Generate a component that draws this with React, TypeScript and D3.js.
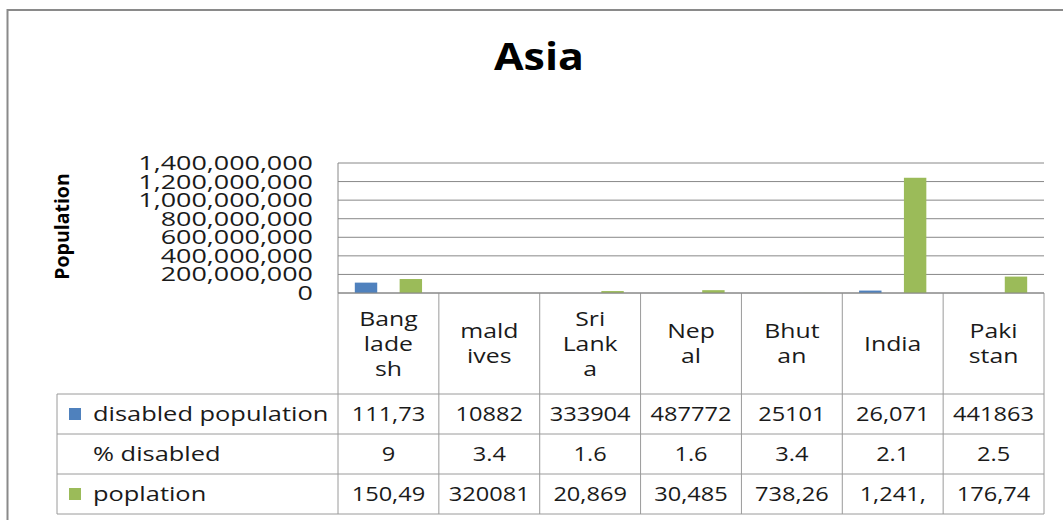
import React from 'react';
import * as d3 from 'd3';

const chartTitle = 'Asia';
const yAxisTitle = 'Population';
const categoryLines: string[][] = [
  ['Bang', 'lade', 'sh'],
  ['mald', 'ives'],
  ['Sri', 'Lank', 'a'],
  ['Nep', 'al'],
  ['Bhut', 'an'],
  ['India'],
  ['Paki', 'stan'],
];
const seriesNames = ['disabled population', '% disabled', 'poplation'];
const seriesColors = ['#4F81BD', 'none', '#9BBB59'];
const disabledPopulation = [111730000, 10882, 333904, 487772, 25101, 26071000, 441863];
const percentDisabled = [9, 3.4, 1.6, 1.6, 3.4, 2.1, 2.5];
const population = [150490000, 320081, 20869000, 30485000, 738260, 1241000000, 176740000];
const disabledText = ['111,73', '10882', '333904', '487772', '25101', '26,071', '441863'];
const percentText = ['9', '3.4', '1.6', '1.6', '3.4', '2.1', '2.5'];
const populationText = ['150,49', '320081', '20,869', '30,485', '738,26', '1,241,', '176,74'];
const yTicks = [0, 200000000, 400000000, 600000000, 800000000, 1000000000, 1200000000, 1400000000];

const W = 1063;
const H = 520;
const plotL = 338;
const plotR = 1044;
const plotT = 163;
const plotB = 293;
const headerB = 394;
const rowH = 40;
const legendL = 57;
const FONT = '"Open Sans", sans-serif';
const SX_NUM = 1.18;
const SX_TXT = 1.27;
const SX_CAT = 1.24;

export default function App() {
  const series = [disabledPopulation, percentDisabled, population];
  const texts = [disabledText, percentText, populationText];
  const idx = categoryLines.map((_, i) => i);
  const x0 = d3.scaleBand<number>().domain(idx).range([plotL, plotR]).paddingInner(0).paddingOuter(0);
  const x1 = d3
    .scaleBand<number>()
    .domain([0, 1, 2])
    .range([0, x0.bandwidth()])
    .paddingInner(0)
    .paddingOuter(0.75);
  const y = d3.scaleLinear().domain([0, 1400000000]).range([plotB, plotT]);
  const fmt = d3.format(',');
  const rowTop = (r: number) => headerB + r * rowH;
  const tableBottom = rowTop(3);
  const gridColor = '#888888';
  const tableColor = '#9a9a9a';
  const headerMid = (plotB + headerB) / 2;
  const textColor = '#1a1a1a';

  return (
    <svg
      width={W}
      height={H}
      style={{ position: 'absolute', left: 0, top: 0, background: '#fff' }}
      fontFamily={FONT}
    >
      <rect x={0} y={0} width={W} height={H} fill="#fff" />
      {/* outer chart frame */}
      <rect x={7.5} y={10} width={W + 20} height={H + 20} fill="none" stroke="#8a8a8a" strokeWidth={2} />

      {/* title */}
      <text
        transform={`translate(539,70) scale(1.13,1)`}
        textAnchor="middle"
        fontSize={38}
        fontWeight="bold"
        fill="#000"
      >
        {chartTitle}
      </text>

      {/* y axis title */}
      <text
        transform={`translate(69,226.5) rotate(-90)`}
        textAnchor="middle"
        fontSize={19.5}
        fontWeight="bold"
        fill="#000"
      >
        {yAxisTitle}
      </text>

      {/* gridlines */}
      {yTicks.map((t) => (
        <line key={'g' + t} x1={plotL} x2={plotR} y1={y(t)} y2={y(t)} stroke={gridColor} strokeWidth={1} />
      ))}
      <line x1={plotL} x2={plotL} y1={plotT} y2={plotB} stroke={gridColor} strokeWidth={1} />

      {/* y tick labels */}
      {yTicks.map((t) => (
        <text
          key={'l' + t}
          transform={`translate(313,${y(t)}) scale(1.38,1)`}
          dy="0.36em"
          textAnchor="end"
          fontSize={19.5}
          fill={textColor}
        >
          {fmt(t)}
        </text>
      ))}

      {/* bars */}
      {series.map((vals, s) =>
        seriesColors[s] === 'none'
          ? null
          : vals.map((v, i) => (
              <rect
                key={`b${s}-${i}`}
                x={(x0(i) as number) + (x1(s) as number)}
                y={y(v)}
                width={x1.bandwidth()}
                height={plotB - y(v)}
                fill={seriesColors[s]}
              />
            ))
      )}

      {/* table: vertical lines */}
      {idx.map((i) => (
        <line
          key={'v' + i}
          x1={x0(i) as number}
          x2={x0(i) as number}
          y1={plotB}
          y2={tableBottom}
          stroke={tableColor}
          strokeWidth={1}
        />
      ))}
      <line x1={plotR} x2={plotR} y1={plotB} y2={tableBottom} stroke={tableColor} strokeWidth={1} />
      <line x1={legendL} x2={legendL} y1={headerB} y2={tableBottom} stroke={tableColor} strokeWidth={1} />
      {[0, 1, 2, 3].map((r) => (
        <line
          key={'h' + r}
          x1={legendL}
          x2={plotR}
          y1={rowTop(r)}
          y2={rowTop(r)}
          stroke={tableColor}
          strokeWidth={1}
        />
      ))}
      <line x1={plotL} x2={plotR} y1={plotB} y2={plotB} stroke={gridColor} strokeWidth={1} />

      {/* category header */}
      {categoryLines.map((lines, i) =>
        lines.map((ln, k) => {
          const cx = (x0(i) as number) + x0.bandwidth() / 2;
          const cy = headerMid - ((lines.length - 1) * 25) / 2 + k * 25;
          return (
            <text
              key={`c${i}-${k}`}
              transform={`translate(${cx},${cy}) scale(${SX_CAT},1)`}
              dy="0.36em"
              textAnchor="middle"
              fontSize={20}
              fill={textColor}
            >
              {ln}
            </text>
          );
        })
      )}

      {/* legend column */}
      {seriesNames.map((name, r) => {
        const cy = rowTop(r) + rowH / 2;
        return (
          <g key={'lg' + r}>
            {seriesColors[r] !== 'none' && (
              <rect x={69} y={cy - 6} width={12} height={12} fill={seriesColors[r]} />
            )}
            <text
              transform={`translate(93,${cy}) scale(${SX_TXT},1)`}
              dy="0.36em"
              fontSize={20}
              fill={textColor}
            >
              {name}
            </text>
          </g>
        );
      })}

      {/* table values */}
      {texts.map((row, r) =>
        row.map((t, i) => {
          const cx = (x0(i) as number) + x0.bandwidth() / 2;
          const cy = rowTop(r) + rowH / 2;
          return (
            <text
              key={`t${r}-${i}`}
              transform={`translate(${cx},${cy}) scale(${SX_NUM},1)`}
              dy="0.36em"
              textAnchor="middle"
              fontSize={20}
              fill={textColor}
            >
              {t}
            </text>
          );
        })
      )}
    </svg>
  );
}
